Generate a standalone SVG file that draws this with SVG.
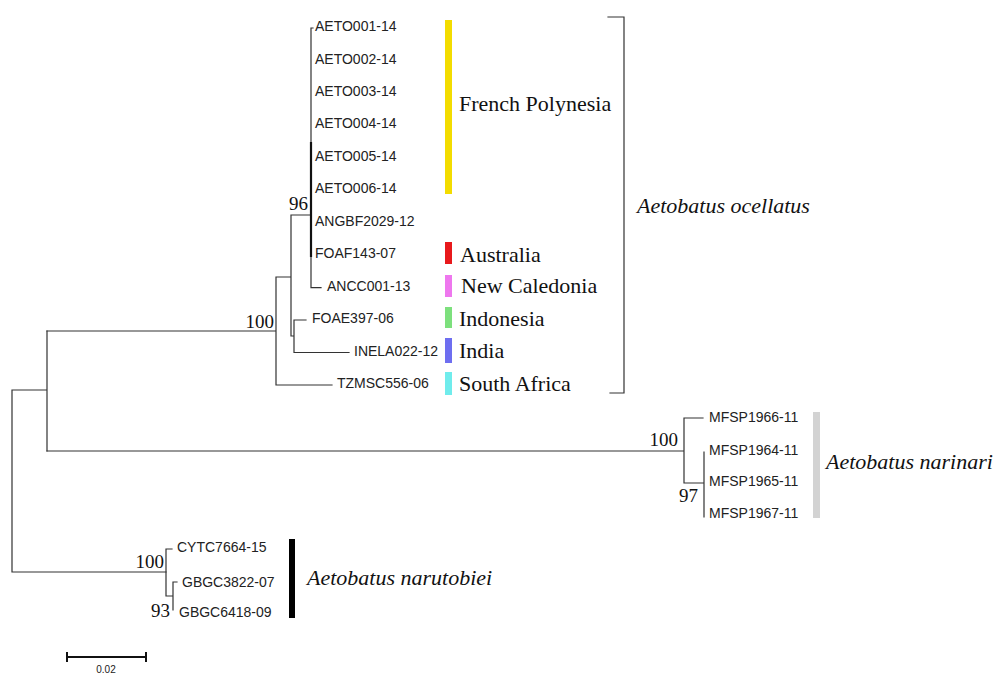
<svg xmlns="http://www.w3.org/2000/svg" width="998" height="675" viewBox="0 0 998 675">
<style>
.br{fill:none;stroke:#333;stroke-width:1.2;stroke-linecap:square}
.lf{font-family:"Liberation Sans",Arial,sans-serif;font-size:14px;fill:#222}
.bs{font-family:"Liberation Serif","Times New Roman",serif;font-size:19px;fill:#111;text-anchor:end}
.rg{font-family:"Liberation Serif","Times New Roman",serif;font-size:22px;fill:#111}
.sp{font-family:"Liberation Serif","Times New Roman",serif;font-size:22px;font-style:italic;fill:#111}
</style>
<rect width="998" height="675" fill="#fff"/>
<g id="connectors">
<path class="br" d="M12 390 V572 M12 390 H47 M47 331 V451 M12 572 H166"/>
<path class="br" d="M47 331 H276 M276 277 V385 M276 385 H332 M276 277 H291 M291 215 V336 M291 336 H294 M294 320 V352.5 M294 320 H306 M294 352.5 H349 M291 215 H311 M311 28 V287.6 M311 28 H313 M311 287.6 H321"/>
<path d="M311 142 V257" fill="none" stroke="#111" stroke-width="2.2"/>
<path class="br" d="M47 451 H684 M684 418 V483 M684 418 H703 M684 483 H704 M704 452 V517"/>
<path class="br" d="M166 549 V596 M166 549 H172 M166 596 H173 M173 582 V610 M173 582 H177"/>
<path class="br" d="M608 17 H624 V393 H610"/>
</g>
<g id="leaves-ocellatus" class="lf">
<g id="AETO001-14"><text x="315" y="31">AETO001-14</text></g>
<g id="AETO002-14"><text x="315" y="63.5">AETO002-14</text></g>
<g id="AETO003-14"><text x="315" y="96">AETO003-14</text></g>
<g id="AETO004-14"><text x="315" y="128.4">AETO004-14</text></g>
<g id="AETO005-14"><text x="315" y="160.8">AETO005-14</text></g>
<g id="AETO006-14"><text x="315" y="193.3">AETO006-14</text></g>
<g id="ANGBF2029-12"><text x="315" y="225.7">ANGBF2029-12</text></g>
<g id="FOAF143-07"><text x="315" y="258.2">FOAF143-07</text></g>
<g id="ANCC001-13"><text x="327" y="290.6">ANCC001-13</text></g>
<g id="FOAE397-06"><text x="312" y="323">FOAE397-06</text></g>
<g id="INELA022-12"><text x="354" y="355.5">INELA022-12</text></g>
<g id="TZMSC556-06"><text x="337" y="388">TZMSC556-06</text></g>
</g>
<g id="leaves-narinari" class="lf">
<g id="MFSP1966-11"><text x="709" y="422">MFSP1966-11</text></g>
<g id="MFSP1964-11"><text x="709" y="455">MFSP1964-11</text></g>
<g id="MFSP1965-11"><text x="709" y="486">MFSP1965-11</text></g>
<g id="MFSP1967-11"><text x="709" y="518">MFSP1967-11</text></g>
</g>
<g id="leaves-narutobiei" class="lf">
<g id="CYTC7664-15"><text x="177" y="552">CYTC7664-15</text></g>
<g id="GBGC3822-07"><text x="182" y="587">GBGC3822-07</text></g>
<g id="GBGC6418-09"><text x="179" y="617">GBGC6418-09</text></g>
</g>
<g id="bootstrap" class="bs">
<text x="308" y="210">96</text>
<text x="274" y="328">100</text>
<text x="678" y="446">100</text>
<text x="698" y="502">97</text>
<text x="164" y="568">100</text>
<text x="170" y="617">93</text>
</g>
<g id="region-bars">
<rect id="bar-french-polynesia" x="445" y="20" width="7" height="174" fill="#f3dc00"/>
<rect id="bar-australia" x="445" y="242" width="7" height="22" fill="#e8191c"/>
<rect id="bar-new-caledonia" x="445" y="275" width="7" height="22" fill="#ee77ee"/>
<rect id="bar-indonesia" x="445" y="307" width="7" height="21" fill="#7de07d"/>
<rect id="bar-india" x="445" y="338" width="7" height="25" fill="#6e6ef0"/>
<rect id="bar-south-africa" x="445" y="372" width="7" height="23" fill="#70ecec"/>
<rect id="bar-narinari" x="813" y="412" width="7" height="106" fill="#d3d3d3"/>
<rect id="bar-narutobiei" x="289" y="539" width="6" height="79" fill="#000"/>
</g>
<g id="region-labels" class="rg">
<text x="459" y="111">French Polynesia</text>
<text x="460" y="262">Australia</text>
<text x="461" y="293">New Caledonia</text>
<text x="459" y="326">Indonesia</text>
<text x="459" y="358">India</text>
<text x="459" y="391">South Africa</text>
</g>
<g id="species-labels" class="sp">
<text x="637" y="213">Aetobatus ocellatus</text>
<text x="826" y="469">Aetobatus narinari</text>
<text x="307" y="585">Aetobatus narutobiei</text>
</g>
<g id="scale-bar">
<path d="M67 657 H146 M67 652 V662 M146 652 V662" fill="none" stroke="#111" stroke-width="2"/>
<text x="106" y="673" text-anchor="middle" font-family="Liberation Sans, Arial, sans-serif" font-size="10" fill="#222">0.02</text>
</g>
</svg>
